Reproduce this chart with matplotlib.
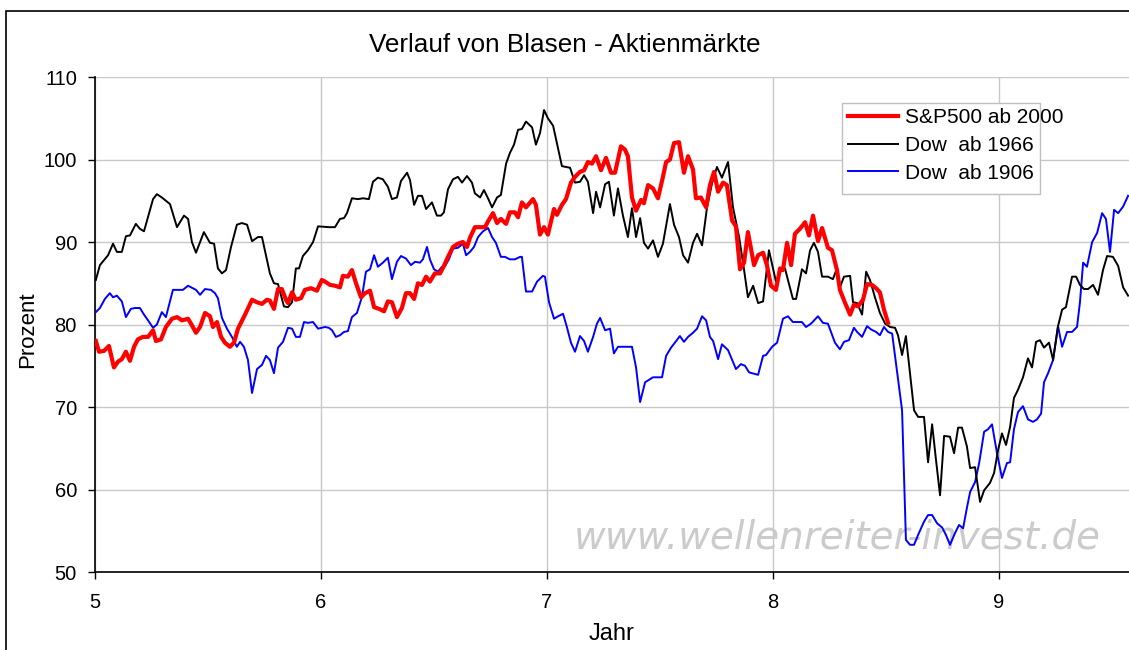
import numpy as np
import matplotlib
matplotlib.use("Agg")
import matplotlib.pyplot as plt
from matplotlib.lines import Line2D
from matplotlib.patches import Rectangle

plt.rcParams['font.family'] = ['Liberation Sans', 'DejaVu Sans']

# Jahr / Prozent.
sp_x = [5.004, 5.018, 5.040, 5.062, 5.084, 5.102, 5.119, 5.137, 5.155, 5.173,
        5.190, 5.212, 5.235, 5.257, 5.270, 5.292, 5.314, 5.341, 5.363, 5.385,
        5.412, 5.429, 5.447, 5.465, 5.487, 5.509, 5.522, 5.540, 5.558, 5.575,
        5.597, 5.615, 5.633, 5.664, 5.695, 5.717, 5.739, 5.761, 5.774, 5.792,
        5.810, 5.827, 5.845, 5.854, 5.872, 5.889, 5.912, 5.929, 5.956, 5.982,
        6.004, 6.018, 6.040, 6.062, 6.084, 6.097, 6.119, 6.137, 6.155, 6.177,
        6.195, 6.217, 6.235, 6.257, 6.279, 6.296, 6.314, 6.336, 6.358, 6.376,
        6.394, 6.412, 6.429, 6.447, 6.465, 6.482, 6.504, 6.527, 6.544, 6.562,
        6.584, 6.606, 6.628, 6.646, 6.659, 6.681, 6.704, 6.726, 6.739, 6.761,
        6.779, 6.796, 6.819, 6.836, 6.858, 6.872, 6.889, 6.907, 6.938, 6.951,
        6.969, 6.987, 7.004, 7.031, 7.044, 7.066, 7.084, 7.106, 7.124, 7.146,
        7.164, 7.181, 7.199, 7.217, 7.239, 7.261, 7.283, 7.301, 7.327, 7.345,
        7.358, 7.376, 7.394, 7.416, 7.429, 7.447, 7.469, 7.491, 7.513, 7.527,
        7.544, 7.562, 7.584, 7.606, 7.624, 7.646, 7.659, 7.681, 7.704, 7.721,
        7.739, 7.757, 7.779, 7.796, 7.819, 7.836, 7.854, 7.872, 7.889, 7.916,
        7.934, 7.956, 7.973, 7.991, 8.013, 8.031, 8.044, 8.062, 8.080, 8.097,
        8.119, 8.142, 8.159, 8.177, 8.199, 8.217, 8.243, 8.261, 8.283, 8.296,
        8.319, 8.341, 8.358, 8.376, 8.398, 8.416, 8.438, 8.456, 8.473, 8.491,
        8.509]
sp_y = [78.0, 76.7, 76.8, 77.4, 74.8, 75.5, 75.8, 76.7, 75.6, 77.3,
        78.2, 78.5, 78.5, 79.3, 78.0, 78.2, 79.7, 80.7, 80.9, 80.5,
        80.7, 79.9, 79.0, 79.7, 81.4, 81.0, 79.7, 80.3, 78.5, 77.8,
        77.3, 77.8, 79.5, 81.2, 83.0, 82.7, 82.5, 83.0, 82.9, 81.9,
        84.3, 84.3, 83.0, 82.6, 83.9, 83.0, 83.2, 84.2, 84.4, 84.1,
        85.4, 85.2, 84.8, 84.7, 84.5, 85.9, 85.8, 86.6, 85.0, 83.3,
        83.8, 84.1, 82.1, 81.9, 81.6, 82.8, 82.7, 80.9, 82.0, 83.8,
        83.8, 83.1, 85.0, 84.8, 85.8, 85.2, 86.2, 86.2, 87.1, 88.2,
        89.4, 89.8, 90.0, 89.4, 90.5, 91.8, 91.8, 91.8, 92.5, 93.5,
        92.3, 92.8, 92.2, 93.6, 93.6, 93.0, 94.8, 94.2, 95.2, 94.5,
        90.9, 91.8, 90.9, 94.0, 93.3, 94.5, 95.2, 97.2, 97.9, 98.5,
        98.7, 99.7, 99.5, 100.4, 98.7, 100.2, 98.4, 98.4, 101.6, 101.2,
        100.4, 95.4, 93.8, 95.1, 94.7, 96.9, 96.5, 95.3, 97.9, 99.7,
        100.0, 102.0, 102.1, 98.4, 100.4, 98.8, 95.3, 95.4, 94.2, 96.9,
        98.5, 96.1, 97.2, 96.9, 92.6, 91.9, 86.7, 87.5, 91.2, 87.2,
        88.4, 88.7, 87.2, 84.7, 84.2, 86.8, 86.6, 89.9, 87.2, 91.0,
        91.6, 92.4, 90.8, 93.2, 90.1, 91.7, 89.3, 89.0, 86.6, 84.2,
        82.6, 81.2, 82.4, 82.2, 83.0, 84.9, 84.8, 84.4, 83.9, 81.8,
        80.2]

dow66_x = [5.004, 5.022, 5.058, 5.080, 5.097, 5.119, 5.137, 5.155, 5.181, 5.199,
           5.217, 5.257, 5.274, 5.296, 5.332, 5.363, 5.394, 5.412, 5.429, 5.447,
           5.482, 5.509, 5.527, 5.544, 5.562, 5.580, 5.602, 5.628, 5.650, 5.673,
           5.695, 5.721, 5.739, 5.774, 5.792, 5.810, 5.836, 5.854, 5.872, 5.889,
           5.903, 5.920, 5.942, 5.965, 5.987, 6.035, 6.062, 6.084, 6.102, 6.115,
           6.137, 6.164, 6.186, 6.212, 6.230, 6.252, 6.274, 6.296, 6.314, 6.336,
           6.354, 6.381, 6.394, 6.412, 6.429, 6.447, 6.465, 6.491, 6.513, 6.531,
           6.544, 6.562, 6.584, 6.606, 6.624, 6.646, 6.668, 6.681, 6.704, 6.721,
           6.739, 6.757, 6.779, 6.796, 6.819, 6.836, 6.854, 6.872, 6.889, 6.907,
           6.934, 6.951, 6.969, 6.987, 7.004, 7.027, 7.066, 7.102, 7.124, 7.146,
           7.164, 7.181, 7.204, 7.217, 7.235, 7.257, 7.274, 7.296, 7.314, 7.336,
           7.358, 7.376, 7.394, 7.412, 7.429, 7.447, 7.469, 7.491, 7.513, 7.544,
           7.562, 7.584, 7.602, 7.624, 7.646, 7.664, 7.686, 7.708, 7.730, 7.752,
           7.774, 7.801, 7.823, 7.850, 7.872, 7.889, 7.912, 7.934, 7.956, 7.982,
           8.013, 8.040, 8.053, 8.066, 8.088, 8.102, 8.128, 8.146, 8.164, 8.181,
           8.199, 8.217, 8.243, 8.265, 8.283, 8.296, 8.314, 8.341, 8.354, 8.372,
           8.394, 8.412, 8.429, 8.451, 8.473, 8.496, 8.518, 8.540, 8.553, 8.571,
           8.588, 8.606, 8.624, 8.642, 8.668, 8.686, 8.704, 8.721, 8.739, 8.757,
           8.783, 8.801, 8.819, 8.836, 8.858, 8.872, 8.894, 8.916, 8.934, 8.960,
           8.978, 8.996, 9.013, 9.031, 9.049, 9.066, 9.084, 9.106, 9.128, 9.146,
           9.164, 9.181, 9.199, 9.221, 9.239, 9.261, 9.279, 9.296, 9.323, 9.341,
           9.358, 9.376, 9.394, 9.416, 9.438, 9.460, 9.478, 9.504, 9.527, 9.549,
           9.571]
dow66_y = [85.4, 87.2, 88.4, 89.8, 88.8, 88.8, 90.7, 90.8, 92.2, 91.6,
           91.3, 95.2, 95.8, 95.4, 94.6, 91.8, 93.2, 92.8, 90.0, 88.7,
           91.2, 89.9, 89.8, 86.8, 86.2, 86.6, 89.4, 92.1, 92.3, 92.1,
           90.1, 90.6, 90.6, 86.2, 85.0, 84.9, 82.2, 82.1, 82.7, 86.8,
           86.8, 88.3, 89.0, 90.0, 91.9, 91.8, 91.8, 92.8, 92.9, 93.5,
           95.3, 95.2, 95.3, 95.2, 97.3, 97.8, 97.6, 96.7, 95.2, 95.4,
           97.4, 98.4, 97.5, 94.5, 95.6, 95.6, 94.0, 94.8, 93.2, 93.2,
           93.6, 96.4, 97.6, 97.9, 97.2, 98.0, 97.2, 95.9, 95.4, 96.3,
           95.3, 94.2, 95.4, 95.7, 99.5, 100.8, 101.8, 103.6, 103.7, 104.6,
           103.9, 101.8, 103.2, 106.0, 105.0, 104.1, 99.2, 99.0, 97.2, 97.3,
           98.1, 97.3, 93.5, 96.1, 94.2, 97.0, 97.3, 93.2, 96.5, 93.2,
           90.6, 94.1, 90.6, 92.9, 89.9, 89.2, 90.2, 88.2, 89.8, 94.6,
           92.1, 90.6, 88.4, 87.5, 89.9, 91.0, 89.6, 94.2, 97.1, 99.1,
           97.8, 99.7, 94.2, 90.6, 86.6, 83.3, 84.7, 82.6, 82.8, 89.0,
           85.2, 86.8, 86.8, 85.4, 83.1, 83.1, 86.7, 86.2, 89.0, 89.9,
           88.8, 85.8, 85.8, 85.5, 86.8, 84.5, 85.8, 85.9, 82.7, 82.6,
           81.2, 86.4, 85.4, 83.3, 81.4, 80.1, 79.7, 79.6, 78.7, 76.3,
           78.6, 74.1, 69.6, 68.8, 68.8, 63.3, 67.9, 63.6, 59.3, 66.5,
           66.4, 64.4, 67.5, 67.5, 65.2, 62.6, 62.7, 58.5, 59.9, 60.8,
           62.0, 64.8, 66.8, 65.4, 67.6, 71.1, 72.1, 73.6, 75.9, 74.8,
           77.9, 78.1, 77.2, 77.8, 75.7, 79.8, 81.8, 82.1, 85.8, 85.8,
           84.8, 84.3, 84.3, 84.8, 83.6, 86.6, 88.3, 88.2, 87.1, 84.5,
           83.5]

dow06_x = [5.004, 5.022, 5.044, 5.066, 5.080, 5.097, 5.119, 5.137, 5.159, 5.177,
           5.199, 5.217, 5.235, 5.257, 5.274, 5.296, 5.314, 5.345, 5.389, 5.412,
           5.447, 5.465, 5.487, 5.513, 5.531, 5.544, 5.562, 5.584, 5.606, 5.628,
           5.642, 5.659, 5.677, 5.695, 5.717, 5.739, 5.757, 5.774, 5.792, 5.810,
           5.832, 5.854, 5.872, 5.889, 5.907, 5.925, 5.942, 5.965, 5.987, 6.018,
           6.035, 6.049, 6.066, 6.084, 6.102, 6.119, 6.137, 6.159, 6.181, 6.199,
           6.217, 6.235, 6.252, 6.274, 6.296, 6.314, 6.336, 6.354, 6.376, 6.398,
           6.416, 6.438, 6.451, 6.469, 6.482, 6.500, 6.518, 6.535, 6.549, 6.566,
           6.584, 6.606, 6.628, 6.642, 6.659, 6.677, 6.695, 6.717, 6.739, 6.757,
           6.774, 6.796, 6.814, 6.836, 6.858, 6.881, 6.889, 6.907, 6.934, 6.956,
           6.982, 6.991, 7.009, 7.031, 7.049, 7.071, 7.088, 7.106, 7.124, 7.146,
           7.164, 7.181, 7.204, 7.221, 7.235, 7.257, 7.279, 7.296, 7.314, 7.376,
           7.394, 7.412, 7.434, 7.469, 7.509, 7.527, 7.549, 7.566, 7.588, 7.606,
           7.624, 7.646, 7.664, 7.686, 7.704, 7.721, 7.735, 7.757, 7.774, 7.801,
           7.836, 7.858, 7.876, 7.894, 7.934, 7.956, 7.969, 7.996, 8.018, 8.044,
           8.066, 8.088, 8.128, 8.146, 8.168, 8.199, 8.221, 8.243, 8.274, 8.296,
           8.314, 8.336, 8.358, 8.372, 8.394, 8.416, 8.434, 8.456, 8.473, 8.491,
           8.509, 8.527, 8.549, 8.571, 8.588, 8.606, 8.624, 8.642, 8.668, 8.686,
           8.704, 8.726, 8.748, 8.765, 8.783, 8.805, 8.823, 8.841, 8.858, 8.872,
           8.894, 8.912, 8.934, 8.951, 8.969, 8.991, 9.013, 9.035, 9.049, 9.066,
           9.084, 9.106, 9.128, 9.150, 9.168, 9.186, 9.199, 9.217, 9.239, 9.261,
           9.279, 9.301, 9.323, 9.345, 9.358, 9.372, 9.389, 9.412, 9.434, 9.456,
           9.473, 9.491, 9.509, 9.527, 9.549, 9.571]
dow06_y = [81.5, 82.0, 83.1, 83.8, 83.3, 83.5, 82.8, 80.9, 81.9, 82.0,
           82.0, 81.2, 80.5, 79.6, 80.0, 81.5, 80.9, 84.2, 84.2, 84.7,
           84.2, 83.6, 84.3, 84.2, 83.8, 83.2, 80.8, 79.5, 78.5, 77.3,
           77.9, 77.3, 75.7, 71.7, 74.6, 75.1, 76.2, 75.7, 74.1, 77.2,
           77.9, 79.6, 79.5, 78.5, 78.5, 80.3, 80.2, 80.3, 79.5, 79.7,
           79.6, 79.3, 78.5, 78.7, 79.1, 79.2, 80.9, 81.4, 83.3, 86.4,
           86.7, 88.4, 87.0, 87.5, 88.1, 85.5, 87.6, 88.3, 88.0, 87.2,
           87.6, 87.5, 87.9, 89.4, 87.9, 86.7, 86.4, 87.0, 87.1, 87.9,
           89.2, 89.3, 89.8, 88.4, 88.8, 89.4, 90.6, 91.3, 91.7, 90.6,
           89.9, 88.2, 88.2, 87.9, 87.9, 88.2, 88.2, 84.0, 84.0, 85.2,
           85.9, 85.8, 82.7, 80.7, 81.0, 81.3, 79.7, 77.8, 76.7, 78.6,
           78.0, 76.7, 78.5, 80.1, 80.8, 79.3, 79.5, 76.5, 77.3, 77.3,
           74.8, 70.6, 73.0, 73.6, 73.6, 76.2, 77.2, 77.8, 78.6, 77.9,
           78.5, 79.0, 79.5, 81.0, 80.5, 78.5, 78.0, 75.8, 77.6, 76.9,
           74.6, 75.2, 75.0, 74.2, 73.9, 76.2, 76.3, 77.3, 77.8, 80.7,
           81.0, 80.3, 80.3, 79.7, 80.1, 81.0, 80.2, 80.1, 77.8, 77.0,
           77.9, 78.1, 79.6, 79.1, 78.5, 79.8, 79.4, 79.1, 78.7, 79.7,
           79.1, 78.9, 74.2, 69.6, 53.9, 53.3, 53.3, 54.5, 56.1, 56.9,
           56.9, 55.9, 55.4, 54.5, 53.3, 54.7, 55.7, 55.3, 57.8, 59.7,
           60.9, 63.2, 67.0, 67.3, 67.9, 64.4, 61.4, 63.2, 63.3, 67.3,
           69.4, 70.1, 68.5, 68.2, 68.5, 69.2, 73.0, 74.1, 75.7, 79.8,
           77.3, 79.1, 79.1, 79.7, 82.7, 87.5, 87.0, 90.0, 91.1, 93.5,
           92.8, 88.8, 93.9, 93.5, 94.3, 95.6]

series_labels = ["S&P500 ab 2000", "Dow  ab 1966", "Dow  ab 1906"]
x_ticks = [5, 6, 7, 8, 9]
y_ticks = [50, 60, 70, 80, 90, 100, 110]

fig = plt.figure(figsize=(11.29, 6.5), dpi=100)
fig.patch.set_facecolor('white')

# outer chart frame
fig.add_artist(Rectangle((0.005, -0.05), 1.1, 1.033, transform=fig.transFigure,
                         fill=False, edgecolor='black', linewidth=1.2))

ax = fig.add_axes([0.0841, 0.12, 0.9159, 0.7615])
ax.set_xlim(5, 9.575)
ax.set_ylim(50, 110)
ax.set_xticks(x_ticks)
ax.set_yticks(y_ticks)
ax.grid(True, color='#c8c8c8', linewidth=1.0)
ax.set_axisbelow(True)
for side in ['top', 'right']:
    ax.spines[side].set_visible(False)
for side in ['left', 'bottom']:
    ax.spines[side].set_linewidth(1.2)
ax.tick_params(axis='both', labelsize=14.5, length=5, width=1.0, colors='black')
ax.tick_params(axis='x', pad=10)
ax.tick_params(axis='y', pad=8)

ax.text(0.718, 0.07, "www.wellenreiter-invest.de", transform=ax.transAxes,
        fontsize=28, family='DejaVu Sans', style='italic', color='#cbcbcb',
        ha='center', va='center', zorder=1)

ax.plot(dow06_x, dow06_y, color='#0000ff', linewidth=1.4, zorder=3)
ax.plot(dow66_x, dow66_y, color='black', linewidth=1.4, zorder=4)
ax.plot(sp_x, sp_y, color='#ff0000', linewidth=3.0, zorder=5)

# legend box (the first label runs past its right edge, as in the original)
ax.add_patch(Rectangle((0.7224, 0.7636), 0.1915, 0.1838, transform=ax.transAxes,
                       facecolor='white', edgecolor='#c0c0c0', linewidth=1.0,
                       zorder=6))
handles = [Line2D([], [], color='#ff0000', linewidth=3.0),
           Line2D([], [], color='black', linewidth=1.4),
           Line2D([], [], color='#0000ff', linewidth=1.4)]
leg = ax.legend(handles, series_labels, loc='upper left',
                bbox_to_anchor=(0.7282, 0.937), fontsize=15, frameon=False,
                handlelength=2.4, handletextpad=0.34, labelspacing=0.42,
                borderpad=0.0, borderaxespad=0.0)
leg.set_zorder(7)

ax.set_xlabel("Jahr", fontsize=17)
ax.xaxis.set_label_coords(0.5, -0.103)
ax.set_ylabel("Prozent", fontsize=16)
ax.yaxis.set_label_coords(-0.055, 0.49)
fig.text(0.5, 0.931, "Verlauf von Blasen - Aktienmärkte", ha='center',
         va='center', fontsize=18.8)

fig.savefig("out.png", dpi=100)
